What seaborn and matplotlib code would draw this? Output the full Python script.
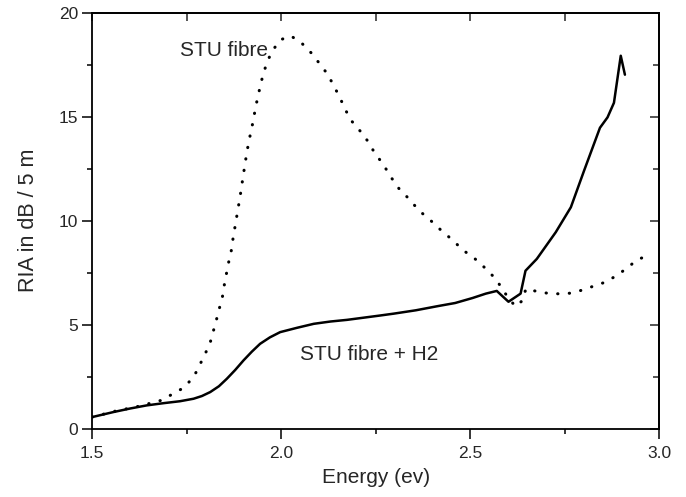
import numpy as np
import pandas as pd
import matplotlib
matplotlib.use("Agg")
import matplotlib.pyplot as plt
import seaborn as sns

# STU fibre (dotted curve)
stu_energy = [1.500, 1.560, 1.621, 1.653, 1.682, 1.711, 1.743, 1.769, 1.785, 1.799, 1.812,
              1.820, 1.828, 1.836, 1.844, 1.849, 1.854, 1.860, 1.867, 1.871, 1.881, 1.891,
              1.900, 1.909, 1.915, 1.921, 1.927, 1.932, 1.939, 1.945, 1.953, 1.962, 1.976,
              1.998, 2.026, 2.056, 2.079, 2.101, 2.123, 2.139, 2.154, 2.168, 2.183, 2.207,
              2.230, 2.247, 2.269, 2.290, 2.312, 2.338, 2.364, 2.396, 2.423, 2.454, 2.480,
              2.512, 2.541, 2.565, 2.582, 2.600, 2.620, 2.638, 2.647, 2.673, 2.704, 2.735,
              2.763, 2.792, 2.823, 2.852, 2.883, 2.912, 2.941, 2.973]
stu_ria = [0.57, 0.85, 1.08, 1.23, 1.37, 1.66, 1.99, 2.52, 3.10, 3.62, 4.15,
           4.68, 5.21, 5.78, 6.31, 6.89, 7.37, 7.95, 8.47, 9.00, 10.08, 11.16,
           12.25, 13.30, 13.88, 14.39, 14.92, 15.47, 16.01, 16.55, 17.08, 17.61, 18.16,
           18.70, 18.88, 18.50, 18.07, 17.56, 17.03, 16.48, 15.96, 15.40, 14.86, 14.35,
           13.80, 13.26, 12.73, 12.10, 11.53, 11.05, 10.50, 10.00, 9.54, 9.06, 8.60,
           8.18, 7.70, 7.25, 6.81, 6.30, 5.88, 6.17, 6.73, 6.62, 6.52, 6.49,
           6.52, 6.65, 6.84, 7.02, 7.32, 7.69, 8.12, 8.36]

# STU fibre + H2 (solid curve)
h2_energy = [1.500, 1.556, 1.600, 1.644, 1.690, 1.732, 1.768, 1.790, 1.812, 1.835, 1.856,
             1.878, 1.900, 1.922, 1.944, 1.970, 1.997, 2.042, 2.086, 2.130, 2.174, 2.262,
             2.298, 2.356, 2.414, 2.460, 2.506, 2.541, 2.570, 2.601, 2.633, 2.646, 2.676,
             2.726, 2.766, 2.801, 2.843, 2.863, 2.880, 2.898, 2.909]
h2_ria = [0.57, 0.81, 0.98, 1.13, 1.24, 1.33, 1.45, 1.58, 1.77, 2.05, 2.41,
          2.83, 3.29, 3.71, 4.09, 4.40, 4.65, 4.86, 5.05, 5.16, 5.24, 5.45,
          5.54, 5.70, 5.90, 6.05, 6.29, 6.50, 6.63, 6.11, 6.50, 7.60, 8.17,
          9.45, 10.65, 12.41, 14.47, 14.97, 15.67, 17.93, 17.02]

x_ticks = [1.5, 2.0, 2.5, 3.0]
y_ticks = [0, 5, 10, 15, 20]

sns.set_style("ticks")
plt.rcParams['font.family'] = ['Liberation Sans', 'DejaVu Sans']

fig = plt.figure(figsize=(6.86, 4.97), dpi=100)
ax = fig.add_axes([0.1345, 0.137, 0.9611 - 0.1345, 0.9745 - 0.137])

stu = pd.DataFrame({"energy": stu_energy, "ria": stu_ria})
h2 = pd.DataFrame({"energy": h2_energy, "ria": h2_ria})

sns.lineplot(data=stu, x="energy", y="ria", ax=ax, color="black", lw=2.2,
             linestyle=(0, (0.1, 3.7)), dash_capstyle="round", sort=False)
sns.lineplot(data=h2, x="energy", y="ria", ax=ax, color="black", lw=1.8, sort=False)

ax.text(1.732, 18.17, "STU fibre", fontsize=15, va="center", ha="left")
ax.text(2.05, 3.58, "STU fibre + H2", fontsize=15, va="center", ha="left")

ax.set_xlim(1.5, 3.0)
ax.set_ylim(0, 20)
ax.set_xticks(x_ticks)
ax.set_yticks(y_ticks)
ax.set_xticklabels([f"{v:.1f}" for v in x_ticks])
ax.set_yticklabels([str(v) for v in y_ticks])
ax.set_xticks(np.arange(1.5, 3.01, 0.25), minor=True)
ax.set_yticks(np.arange(0, 20.1, 2.5), minor=True)
ax.tick_params(which="both", direction="out", labelsize=12.5, width=1.1, color="black")
ax.tick_params(which="major", length=7)
ax.tick_params(which="minor", length=3.6)
ax.tick_params(axis="x", pad=5)
ax.tick_params(axis="y", pad=3)

# top and right: inward ticks without labels
top = ax.secondary_xaxis("top")
top.set_xticks(np.arange(1.5, 3.01, 0.25))
top.tick_params(direction="in", length=5.5, width=1.1, labeltop=False)
right = ax.secondary_yaxis("right")
right.set_yticks(y_ticks)
right.set_yticks(np.arange(2.5, 20, 5), minor=True)
right.tick_params(which="major", direction="in", length=6.5, width=1.1, labelright=False)
right.tick_params(which="minor", direction="in", length=4.5, width=1.1)
for a in (ax, top, right):
    for s in a.spines.values():
        s.set_linewidth(1.3)
        s.set_color("black")

ax.set_xlabel("Energy (ev)", fontsize=15, labelpad=5)
ax.set_ylabel("RIA in dB / 5 m", fontsize=15.5, labelpad=14)

fig.savefig("out.png", dpi=100)
